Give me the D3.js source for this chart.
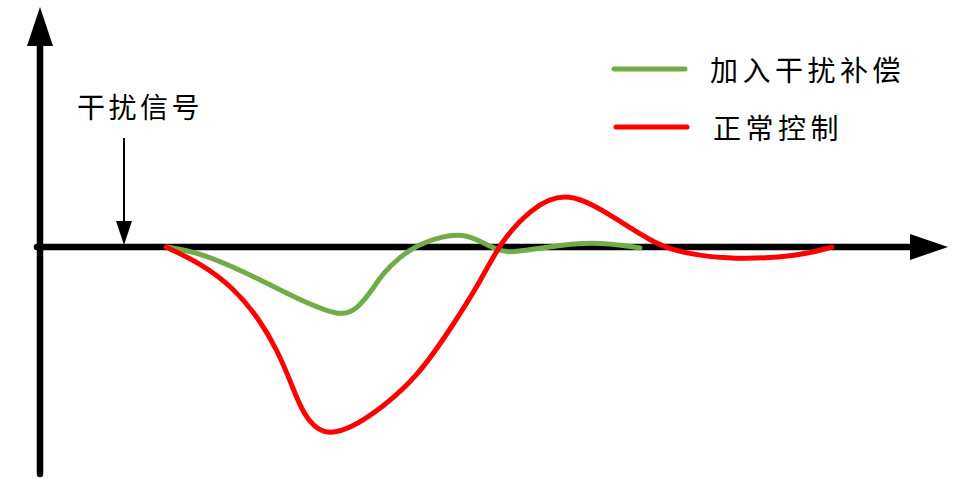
<!DOCTYPE html>
<html lang="zh">
<head>
    <meta charset="UTF-8">
    <title>干扰补偿响应</title>
    <script src="https://d3js.org/d3.v7.min.js"></script>
    <style>
        body { margin: 0; background: #ffffff; }
        text { font-family: "Noto Sans CJK SC", sans-serif; fill: #000; }
    </style>
</head>
<body>
    <div id="chart"></div>
    <script>
        // series data: [time, response]
        const greenSeries = [
            [12.7, 0], [16, -0.6], [19.3, -2.0], [22.7, -3.6], [26, -5.3], [28.7, -6.4],
            [30.3, -6.8], [31.7, -6.2], [33, -4.6], [34.3, -2.6], [36, -1.0], [37.7, 0.2],
            [40.3, 1.1], [42.3, 1.3], [44, 0.6], [45.7, -0.3], [47, -0.6], [50, -0.1],
            [55.3, 0.6], [60, -0.1]
        ];
        const redSeries = [
            [12.6, 0], [16, -1.6], [19.3, -4.0], [22, -7.3], [23.7, -10.3], [25, -13.3],
            [26.3, -16.8], [28.3, -18.9], [31, -18.2], [34.3, -16], [37.7, -13], [41, -8.3],
            [44.3, -3.0], [46, 0.4], [49, 3.8], [52.7, 5.8], [57.7, 2.8], [61.7, 0.2],
            [64.3, -0.6], [69.3, -1.3], [76, -0.9], [79.2, 0]
        ];
        const seriesNames = ["加入干扰补偿", "正常控制"];
        const seriesColors = ["#70ad47", "#ff0000"];
        const disturbanceLabel = "干扰信号";
        const disturbanceTime = 8.4;

        const width = 975, height = 497;

        const svg = d3.select("#chart")
            .append("svg")
            .attr("width", width)
            .attr("height", height);

        // 10 px per unit, origin at (40, 247)
        const x = d3.scaleLinear().domain([0, 90]).range([40, 940]);
        const y = d3.scaleLinear().domain([-20, 20]).range([447, 47]);

        // axes
        svg.append("line")
            .attr("x1", x(0)).attr("y1", 474)
            .attr("x2", x(0)).attr("y2", 40)
            .attr("stroke", "#000").attr("stroke-width", 6.5)
            .attr("stroke-linecap", "round");
        svg.append("path")
            .attr("d", `M${x(0)},7 L${x(0) + 13},46 L${x(0) - 13},46 Z`)
            .attr("fill", "#000");

        svg.append("line")
            .attr("x1", x(0) - 3).attr("y1", y(0))
            .attr("x2", 915).attr("y2", y(0))
            .attr("stroke", "#000").attr("stroke-width", 6.5)
            .attr("stroke-linecap", "round");
        svg.append("path")
            .attr("d", `M948,${y(0)} L910,${y(0) - 13} L910,${y(0) + 13} Z`)
            .attr("fill", "#000");

        // disturbance annotation
        svg.append("line")
            .attr("x1", x(disturbanceTime)).attr("y1", 138)
            .attr("x2", x(disturbanceTime)).attr("y2", 222)
            .attr("stroke", "#000").attr("stroke-width", 2);
        svg.append("path")
            .attr("d", `M${x(disturbanceTime) - 8},221 L${x(disturbanceTime) + 8},221 L${x(disturbanceTime)},${y(0) - 2} Z`)
            .attr("fill", "#000");
        svg.append("text")
            .attr("x", 77).attr("y", 118)
            .attr("font-size", 28)
            .attr("letter-spacing", 3.5)
            .text(disturbanceLabel);

        // curves
        const line = d3.line()
            .x(d => x(d[0]))
            .y(d => y(d[1]))
            .curve(d3.curveBasis);

        [greenSeries, redSeries].forEach((s, i) => {
            svg.append("path")
                .datum(s)
                .attr("fill", "none")
                .attr("stroke", seriesColors[i])
                .attr("stroke-width", 5)
                .attr("stroke-linecap", "round")
                .attr("d", line);
        });

        // legend
        const legendY = [69, 127];
        seriesNames.forEach((name, i) => {
            svg.append("line")
                .attr("x1", 614 + i * 2).attr("y1", legendY[i])
                .attr("x2", 685 + i * 2).attr("y2", legendY[i])
                .attr("stroke", seriesColors[i])
                .attr("stroke-width", 5)
                .attr("stroke-linecap", "round");
            svg.append("text")
                .attr("x", 710 + i * 3).attr("y", legendY[i] + 12)
                .attr("font-size", 28)
                .attr("letter-spacing", 4.5)
                .text(name);
        });
    </script>
</body>
</html>
